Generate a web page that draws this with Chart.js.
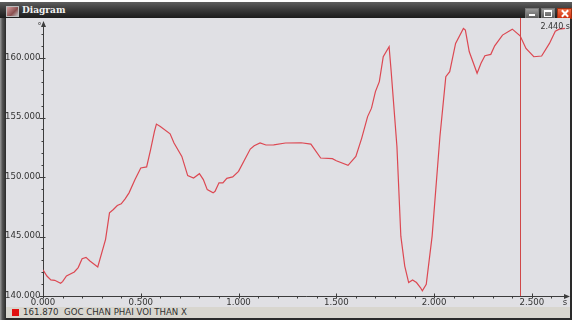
<!DOCTYPE html>
<html>
<head>
<meta charset="utf-8">
<script src="https://cdn.jsdelivr.net/npm/chart.js@4/dist/chart.umd.min.js"></script>
<style>
  html, body { margin: 0; padding: 0; width: 572px; height: 320px; overflow: hidden; background: #ffffff; }
  #win { position: absolute; left: 0; top: 2px; width: 572px; height: 318px; background: #2a2a2a; }
  #title { position: absolute; left: 0; top: 0; width: 572px; height: 16px;
           background: linear-gradient(#5e5e5e, #3c3c3c 45%, #1c1c1c); }
  #title .icon { position: absolute; left: 6px; top: 4px; width: 11px; height: 9px;
                 background: linear-gradient(135deg, #d8a0a0, #8a5050 60%, #c0c0c0); border: 1px solid #bbb; }
  #title .cap { position: absolute; left: 22px; top: 2px; font: bold 9px "DejaVu Serif", serif;
                color: #f2f2f2; line-height: 12px; }
  .btn { position: absolute; top: 6px; width: 12px; height: 9px; border: 1px solid #7a7a7a;
         background: linear-gradient(#9a9a9a, #5c5c5c); }
  .btn.min { left: 525px; }
  .btn.min::after { content: ""; position: absolute; left: 3px; top: 5px; width: 6px; height: 2px; background: #fff; }
  .btn.max { left: 541px; }
  .btn.max::after { content: ""; position: absolute; left: 2px; top: 1px; width: 6px; height: 4px; border: 1px solid #fff; border-top-width: 2px; }
  .btn.close { left: 557px; width: 13px; background: linear-gradient(#f07048, #d03010); border-color: #a03010; }
  .btn.close::before, .btn.close::after { content: ""; position: absolute; left: 6px; top: 0px; width: 2px; height: 9px; background: #fff; }
  .btn.close::before { transform: rotate(45deg); }
  .btn.close::after { transform: rotate(-45deg); }
  #lborder { position: absolute; left: 0; top: 16px; width: 6px; height: 302px;
             background: linear-gradient(to right, #9a9a9a, #555 40%, #2a2a2a); }
  #panel { position: absolute; left: 6px; top: 16px; width: 564px; height: 289px; background: #e0e0e4; }
  #legend { position: absolute; left: 6px; top: 305px; width: 564px; height: 11px; background: #d8d6cf; }
  #legend .swatch { position: absolute; left: 6px; top: 2px; width: 7px; height: 7px; background: #e01010; }
  #legend .txt { position: absolute; left: 17px; top: 0px; font: 8.6px "DejaVu Sans", sans-serif;
                 color: #303030; line-height: 11px; white-space: pre; }
  #chart { position: absolute; left: 0; top: 0; width: 572px; height: 320px; }
</style>
</head>
<body>
<div id="win">
  <div id="title"><div class="icon"></div><div class="cap">Diagram</div>
    <div class="btn min"></div><div class="btn max"></div><div class="btn close"></div></div>
  <div id="lborder"></div>
  <div id="panel"></div>
  <div id="legend"><div class="swatch"></div><div class="txt" id="legendText"></div></div>
</div>
<canvas id="chart" width="572" height="320"></canvas>
<script>
// Joint angle over time (seconds / degrees)
const timeS = [
  0.00, 0.02, 0.04, 0.06, 0.09, 0.10, 0.12, 0.16, 0.18, 0.20,
  0.22, 0.24, 0.28, 0.32, 0.34, 0.36, 0.38, 0.40, 0.42, 0.44,
  0.47, 0.50, 0.53, 0.55, 0.57, 0.58, 0.60, 0.65, 0.67, 0.71,
  0.74, 0.77, 0.80, 0.82, 0.84, 0.87, 0.88, 0.90, 0.92, 0.94,
  0.97, 1.00, 1.06, 1.08, 1.11, 1.14, 1.18, 1.24, 1.32, 1.37,
  1.42, 1.48, 1.50, 1.56, 1.60, 1.63, 1.66, 1.68, 1.70, 1.72,
  1.74, 1.77, 1.78, 1.81, 1.83, 1.85, 1.87, 1.89, 1.91, 1.93,
  1.94, 1.96, 1.99, 2.03, 2.06, 2.08, 2.11, 2.15, 2.16, 2.18,
  2.22, 2.24, 2.26, 2.29, 2.31, 2.35, 2.40, 2.44, 2.47, 2.51,
  2.55, 2.59, 2.62, 2.64, 2.67
];
const angleDeg = [
  142.19, 141.68, 141.35, 141.32, 141.07, 141.21, 141.68, 142.02, 142.39, 143.14,
  143.25, 142.94, 142.44, 144.76, 146.99, 147.27, 147.60, 147.75, 148.17, 148.67,
  149.78, 150.76, 150.85, 152.29, 153.83, 154.45, 154.25, 153.63, 152.86, 151.73,
  150.12, 149.92, 150.28, 149.78, 148.94, 148.67, 148.80, 149.51, 149.51, 149.89,
  150.01, 150.48, 152.35, 152.63, 152.86, 152.69, 152.71, 152.86, 152.88, 152.77,
  151.60, 151.54, 151.37, 150.98, 151.73, 153.27, 155.08, 155.79, 157.18, 158.02,
  160.11, 160.95, 159.00, 152.57, 145.03, 142.52, 141.13, 141.35, 141.13, 140.71,
  140.43, 140.99, 145.03, 153.41, 158.43, 158.85, 161.23, 162.49, 162.35, 160.53,
  158.72, 159.56, 160.19, 160.31, 161.03, 161.93, 162.43, 161.87, 160.81, 160.11,
  160.17, 161.23, 162.26, 162.43, 162.49
];
const yTickValues = [140, 145, 150, 155, 160];
const xTickValues = [0, 0.5, 1.0, 1.5, 2.0, 2.5];
const seriesName = 'GOC CHAN PHAI VOI THAN X';
const cursorTime = 2.44;
const cursorValue = angleDeg[timeS.indexOf(cursorTime)];

document.getElementById('legendText').textContent =
  cursorValue.toFixed(3) + '  ' + seriesName;

const points = timeS.map((t, i) => ({ x: t, y: angleDeg[i] }));

const axisColor = '#3c3c3c';
const labelFont = '8.6px "DejaVu Sans", sans-serif';

// Axes with arrow heads, major/minor ticks and fixed-decimal labels
const axesPlugin = {
  id: 'scopeAxes',
  beforeDatasetsDraw(chart) {
    const { ctx, chartArea: a, scales: { x, y } } = chart;
    ctx.save();
    ctx.strokeStyle = axisColor;
    ctx.fillStyle = axisColor;
    ctx.lineWidth = 1;
    const x0 = Math.round(x.getPixelForValue(0)) + 0.5;
    const y0 = Math.round(y.getPixelForValue(140)) + 0.5;
    ctx.beginPath();
    ctx.moveTo(x0, a.top); ctx.lineTo(x0, y0);
    ctx.moveTo(x0, y0); ctx.lineTo(a.right, y0);
    ctx.stroke();
    // arrow heads
    ctx.beginPath();
    ctx.moveTo(x0, a.top - 1); ctx.lineTo(x0 - 2.5, a.top + 5); ctx.lineTo(x0 + 2.5, a.top + 5); ctx.closePath();
    ctx.moveTo(a.right + 1, y0); ctx.lineTo(a.right - 5, y0 - 2.5); ctx.lineTo(a.right - 5, y0 + 2.5); ctx.closePath();
    ctx.fill();
    // minor ticks
    ctx.beginPath();
    for (let v = 141; v < 163; v++) {
      if (v % 5 === 0) continue;
      const py = Math.round(y.getPixelForValue(v)) + 0.5;
      ctx.moveTo(x0 - 2, py); ctx.lineTo(x0, py);
    }
    for (let k = 1; k <= 26; k++) {
      if (k % 5 === 0) continue;
      const px = Math.round(x.getPixelForValue(k / 10)) + 0.5;
      ctx.moveTo(px, y0); ctx.lineTo(px, y0 + 2);
    }
    ctx.stroke();
    // major ticks
    ctx.beginPath();
    yTickValues.forEach(v => {
      const py = Math.round(y.getPixelForValue(v)) + 0.5;
      ctx.moveTo(x0 - 4, py); ctx.lineTo(x0 + 2, py);
    });
    xTickValues.forEach(v => {
      const px = Math.round(x.getPixelForValue(v)) + 0.5;
      ctx.moveTo(px, y0 - 3); ctx.lineTo(px, y0 + 2);
    });
    ctx.stroke();
    // labels
    ctx.font = labelFont;
    ctx.fillStyle = '#333';
    ctx.textAlign = 'right';
    ctx.textBaseline = 'middle';
    yTickValues.forEach(v => {
      ctx.fillText(v.toFixed(3), x0 - 3, y.getPixelForValue(v) - 0.5);
    });
    ctx.textAlign = 'center';
    ctx.textBaseline = 'top';
    xTickValues.forEach(v => {
      ctx.fillText(v.toFixed(3), x.getPixelForValue(v), y0 + 2);
    });
    ctx.fillText('s', a.right - 4, y0 + 2);
    ctx.textAlign = 'right';
    ctx.textBaseline = 'alphabetic';
    ctx.font = '8px "DejaVu Sans", sans-serif';
    ctx.fillText('°', x0 - 2, a.top + 7);
    ctx.restore();
  },
  afterDatasetsDraw(chart) {
    const { ctx, chartArea: a, scales: { x, y } } = chart;
    ctx.save();
    const cx = Math.round(x.getPixelForValue(cursorTime)) + 0.5;
    ctx.strokeStyle = '#d04848';
    ctx.lineWidth = 1;
    ctx.beginPath();
    ctx.moveTo(cx, 18); ctx.lineTo(cx, y.getPixelForValue(140));
    ctx.stroke();
    ctx.font = '8px "DejaVu Sans", sans-serif';
    ctx.fillStyle = '#333';
    ctx.textAlign = 'right';
    ctx.textBaseline = 'middle';
    ctx.fillText(cursorTime.toFixed(3) + ' s', 570, 27);
    ctx.restore();
  }
};

new Chart(document.getElementById('chart'), {
  type: 'scatter',
  data: {
    datasets: [{
      label: seriesName,
      data: points,
      showLine: true,
      borderColor: '#dc4852',
      borderWidth: 1.2,
      pointRadius: 0,
      tension: 0
    }]
  },
  options: {
    responsive: false,
    animation: false,
    events: [],
    layout: { padding: { left: 43, right: 3, top: 22, bottom: 24 } },
    plugins: { legend: { display: false }, tooltip: { enabled: false } },
    scales: {
      x: { type: 'linear', min: 0, max: 2.69, display: false },
      y: { type: 'linear', min: 140, max: 163.03, display: false }
    }
  },
  plugins: [axesPlugin]
});
</script>
</body>
</html>
